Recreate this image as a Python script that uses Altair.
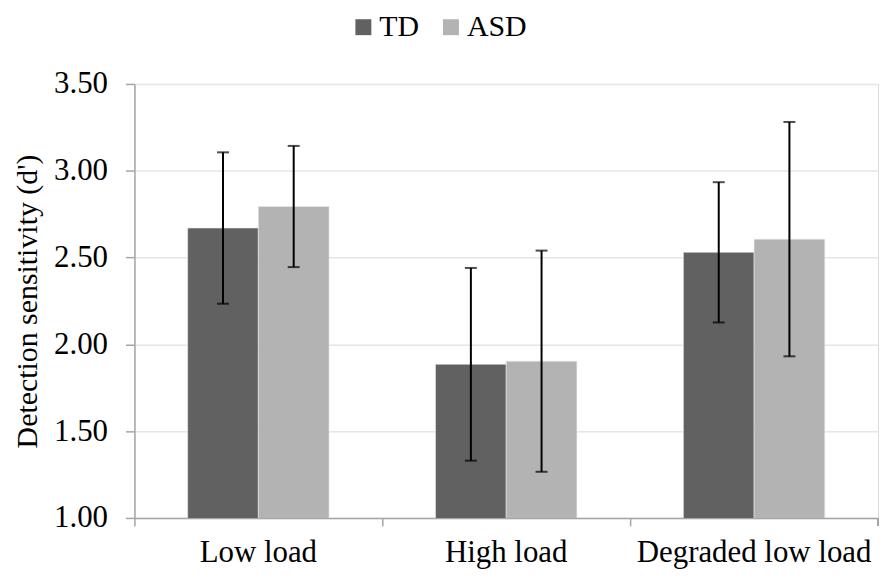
import altair as alt
import pandas as pd

conditions = ["Low load", "High load", "Degraded low load"]
groups = ["TD", "ASD"]
td_means = [2.67, 1.885, 2.53]
td_errors = [0.436, 0.555, 0.404]
asd_means = [2.794, 1.903, 2.606]
asd_errors = [0.349, 0.637, 0.675]
y_ticks = [1.0, 1.5, 2.0, 2.5, 3.0, 3.5]
colors = ["#616161", "#b3b3b3"]

rows = []
for i, c in enumerate(conditions):
    rows.append({"cond": c, "group": "TD", "mean": td_means[i],
                 "lo": td_means[i] - td_errors[i], "hi": td_means[i] + td_errors[i]})
    rows.append({"cond": c, "group": "ASD", "mean": asd_means[i],
                 "lo": asd_means[i] - asd_errors[i], "hi": asd_means[i] + asd_errors[i]})
df = pd.DataFrame(rows)

FONT = "Liberation Serif"
FS = 31

x = alt.X("cond:N", sort=conditions, title=None,
          scale=alt.Scale(paddingInner=0, paddingOuter=0),
          axis=alt.Axis(labelAngle=0, bandPosition=0, tickSize=8, labelPadding=12,
                        labelLimit=0, labelOverlap=False,
                        domainColor="#a6a6a6", tickColor="#a6a6a6", domainWidth=1.5,
                        tickWidth=1.5, grid=False, labelFont=FONT, labelFontSize=FS,
                        labelColor="black"))
xo = alt.XOffset("group:N", sort=groups,
                 scale=alt.Scale(paddingInner=0, paddingOuter=0.7535))

bars = alt.Chart(df).mark_bar(stroke="#e8e8e8", strokeWidth=0.6, clip=True).encode(
    x=x,
    xOffset=xo,
    y=alt.Y("mean:Q", title="Detection sensitivity (d')",
            scale=alt.Scale(domain=[1.0, 3.5], nice=False, zero=False),
            axis=alt.Axis(values=y_ticks, format=".2f", tickSize=9, labelPadding=18,
                          domainColor="#a6a6a6", tickColor="#a6a6a6", domainWidth=1.5,
                          tickWidth=1.5, gridColor="#e6e6e6", gridWidth=1.5,
                          labelFont=FONT, labelFontSize=FS, labelColor="black",
                          titleFont=FONT, titleFontSize=30, titleFontWeight="normal",
                          titleColor="black", titlePadding=11)),
    color=alt.Color("group:N", sort=groups,
                    scale=alt.Scale(domain=groups, range=colors),
                    legend=alt.Legend(title=None, orient="none", direction="horizontal",
                                      legendX=215, legendY=-72, symbolType="square",
                                      symbolSize=256, symbolStrokeWidth=0,
                                      labelFont=FONT, labelFontSize=30, labelColor="black",
                                      labelOffset=1, columnPadding=17)),
)

rules = alt.Chart(df).mark_rule(color="black", strokeWidth=2).encode(
    x=alt.X("cond:N", sort=conditions),
    xOffset=xo,
    y="lo:Q",
    y2="hi:Q",
)
caps_hi = alt.Chart(df).mark_tick(color="black", size=12, thickness=2).encode(
    x=alt.X("cond:N", sort=conditions),
    xOffset=xo,
    y="hi:Q",
)
caps_lo = alt.Chart(df).mark_tick(color="black", size=12, thickness=2).encode(
    x=alt.X("cond:N", sort=conditions),
    xOffset=xo,
    y="lo:Q",
)
end_tick = alt.Chart(df).mark_rule(color="#a6a6a6", strokeWidth=1.5).encode(
    x=alt.value(747), y=alt.value(436), y2=alt.value(444)
)

chart = alt.layer(bars, rules, caps_hi, caps_lo, end_tick).properties(
    width=747, height=436,
    autosize=alt.AutoSizeParams(type="none"),
    padding={"left": 127, "top": 75, "right": 2, "bottom": 50},
).configure_view(stroke=None).configure(background="white")

chart.save("out.html", embed_options={"renderer": "svg", "actions": False})
